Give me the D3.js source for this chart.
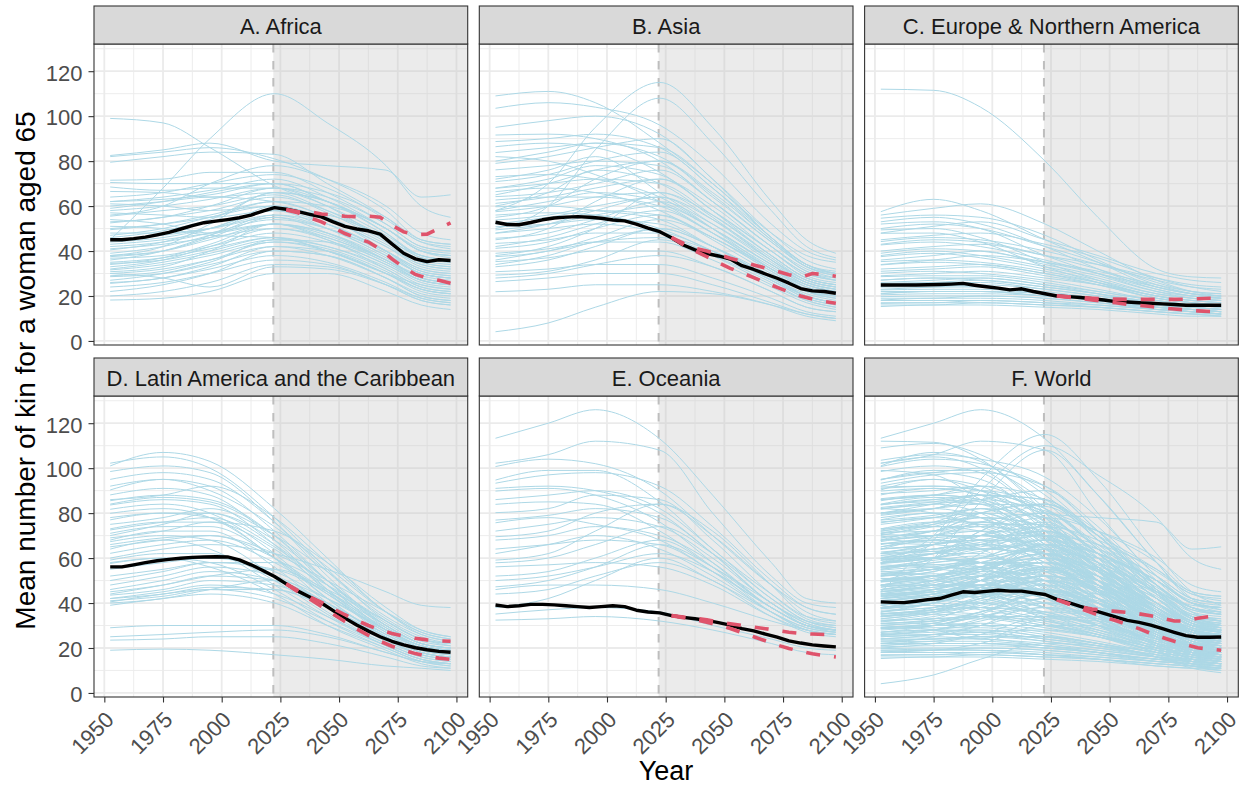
<!DOCTYPE html>
<html><head><meta charset="utf-8">
<script src="https://cdn.jsdelivr.net/npm/d3@7"></script>
<style>body{margin:0;background:#fff} text{font-family:"Liberation Sans",Arial,Helvetica,sans-serif}</style>
</head><body><svg id="chart" width="1245" height="788"></svg>
<script>
// ---------- data ----------
const panelTitles = ["A. Africa","B. Asia","C. Europe & Northern America","D. Latin America and the Caribbean","E. Oceania","F. World"];
const years = [1952.5,1957.5,1962.5,1967.5,1972.5,1977.5,1982.5,1987.5,1992.5,1997.5,2002.5,2007.5,2012.5,2017.5,2022.5,2027.5,2032.5,2037.5,2042.5,2047.5,2052.5,2057.5,2062.5,2067.5,2072.5,2077.5,2082.5,2087.5,2092.5,2097.5];
const projYears = [2027.5,2032.5,2037.5,2042.5,2047.5,2052.5,2057.5,2062.5,2067.5,2072.5,2077.5,2082.5,2087.5,2092.5,2097.5];
const keyYears = [1952.5,1975,1995,2022.5,2045,2070,2085,2097.5];
const yTicks = [0,20,40,60,80,100,120];
const yMinor = [10,30,50,70,90,110,130];
const xTicks = [1950,1975,2000,2025,2050,2075,2100];
const xMinor = [1962.5,1987.5,2012.5,2037.5,2062.5,2087.5];
const projectionStart = 2022;

const meanAfrica = [45,45,45.5,46.2,47.2,48.3,49.8,51.3,52.6,53.3,54,54.8,56,57.8,59.3,58.6,57.5,56.3,55.2,53,51,49.8,49,47.5,43.2,39,36.5,35.3,36.1,35.8];
const highAfrica = [58.5,57.5,57.5,56.5,56,55.5,55.3,55.5,55,51.5,48.5,47.3,47.5,50,52.5];
const lowAfrica  = [58.3,57,54.8,53,50.5,47.8,45.8,44,40.8,36.5,32.8,29.6,28,27,25.7];

const meanAsia = [52.8,51.8,51.7,52.7,53.9,54.7,55.1,55.3,55,54.6,53.8,53.4,52,50.2,48.6,45.9,42.7,40.5,38.9,37.8,36.4,33.5,31.8,29.8,27.9,25.7,23.3,22.3,22,21.2];
const highAsia = [46,43.5,41.3,40,38.5,36.8,35.3,33.8,32.4,31,29.5,28.3,30,29.5,28.8];
const lowAsia  = [46,42.8,40,37.5,34.8,32.3,30.3,28.2,26,23.8,21.8,20,18.6,17.6,16.8];

const meanEurope = [24.9,24.9,24.9,24.9,25,25.1,25.3,25.6,24.8,24.1,23.5,22.7,23.2,22,21,20,19.7,19.3,18.8,18.2,17.5,17.3,17,16.8,16.5,16.2,15.9,15.9,15.9,15.9];
const highEurope = [20,19.6,19.3,19,18.8,18.6,18.5,18.5,18.5,18.5,18.5,18.6,18.8,19,19];
const lowEurope  = [20,19.5,18.9,18.2,17.6,17,16.3,15.8,15.3,14.7,14.2,13.8,13.4,13.1,12.9];

const meanLatam = [56.1,56.1,57,58,58.8,59.4,59.9,60.3,60.5,60.6,60.5,59.2,57,54.5,51.8,48.5,45.3,42.7,40,36.6,33.3,30.2,27.5,25,23,21.4,20.1,19.2,18.5,18.1];
const highLatam = [48.5,45.5,42.8,40.3,37.5,34.8,32.3,30,28,26.5,25.3,24.3,23.6,23.2,23];
const lowLatam  = [48.5,45,41.8,38.5,35,31.8,28.5,25.6,23,20.8,19,17.5,16.3,15.5,14.9];

const meanOceania = [39.1,38.4,38.8,39.4,39.4,39.2,38.8,38.4,38,38.4,38.8,38.4,36.8,36,35.6,34.4,33.6,33,32.3,31.3,30.2,28.6,27.6,26.2,24.8,23.2,22.2,21.4,20.9,20.5];
const highOceania = [34.4,33.8,33.2,32.5,31.6,30.8,30,29.3,28.6,27.8,27,26.5,26.2,26,26];
const lowOceania  = [34.4,33.5,32.6,31.5,30.2,28.7,26.8,25,23.2,21.3,19.8,18.5,17.4,16.6,16];

const meanWorld = [40.5,40.3,40.2,40.8,41.5,42,43.5,45,44.7,45.2,45.7,45.3,45.3,44.5,43.8,41.6,40.2,38.5,37,35.4,33.8,32.3,31.4,30.2,28.6,27,25.5,24.8,24.8,24.9];
const highWorld = [41.5,39.8,38.3,37.3,36.8,36.3,35.8,35.2,34.3,33.2,32,32,33.2,34,34.6];
const lowWorld  = [41.5,39.6,37.5,35.6,33.8,32.2,30.4,28.6,26.5,24.7,23,21.5,20.1,19.5,19];

// country lines, values at keyYears
const africaLines = [
[99,97,86,69,60,45,38,36],[45,68,90,110,97,78,60,55],[82.5,85,88,80,78,76,64,65],[82,84,86,81,72,58,45,43],
[79.5,82,84,83,70,55,44,42],[71.5,72,75,75,66,52,42,40],[70.5,70,70,70,62,50,40,38],[68.5,67,68,68,60,47,38,36],
[66.5,66,64,66,58,45,36,34],[62,64,67,72,64,50,40,38],[61,60,58,60,54,42,34,32],[59,62,66,70,62,48,38,36],
[57,56,55,58,50,38,30,28],[55.5,58,60,65,57,44,35,33],[54,52,48,52,45,34,27,25],[52.5,55,58,64,58,46,37,35],
[51,50,47,46,40,30,25,23],[49.5,52,56,62,55,43,34,32],[48,48,50,55,50,40,32,30],[47,50,55,60,52,40,32,30],
[45,47,50,56,50,38,30,28],[43,45,48,52,46,36,28,26],[40.5,44,50,58,52,40,31,29],[38,40,45,52,47,36,29,27],
[37.5,40,46,55,48,36,28,26],[36.8,38,42,48,44,34,26,24],[36,40,47,60,54,42,33,31],[34.5,36,40,46,42,33,25,23],
[33,36,42,50,46,35,27,25],[31.6,34,38,44,40,30,23,21],[30.8,33,40,52,48,37,28,26],[30,32,36,42,38,28,21,19],
[30,28,24,33,32,25,19,17],[28.6,30,34,40,38,28,20,18],[27,30,35,45,42,32,24,22],[25.6,28,32,38,35,26,19,17],
[24,26,30,36,34,25,18,16],[22,25,30,40,38,28,20,18],[18.2,19,22,30,30,22,16,14],[58,60,63,68,62,50,40,38],
[62,63,65,70,66,55,45,43],[50,52,55,62,60,50,40,37],[44,46,50,58,56,45,35,33],[41,43,46,50,45,32,24,22],
[35,37,41,46,40,30,23,21],[32,35,39,45,44,35,27,25],[46,49,54,66,62,50,41,39],[56,60,70,78,72,60,48,45],
[60,62,64,62,55,40,30,28],[38,42,52,66,62,48,37,35],
[64,66,70,74,68,54,44,41],[53,55,60,68,64,52,42,40],[42,44,48,54,50,39,30,28],[39,42,47,56,52,40,31,29],
[34,37,43,52,48,36,27,25],[29,31,36,44,41,31,23,21],[26,28,33,42,40,30,22,20],[20,22,26,34,33,25,18,16]
];
const asiaLines = [
[109,111,106,88,70,48,38,35],[103.5,106,104,96,78,52,40,36],[58,70,95,115,95,62,45,39],[50,60,85,108,88,58,42,37],
[91.6,92,90,80,62,42,32,28],[88.7,90,92,86,68,45,34,30],[86.4,88,86,75,58,38,28,25],[83.8,86,88,82,65,44,33,29],
[82,80,74,62,48,32,25,22],[79,82,86,90,72,48,36,32],[76.1,78,80,78,62,42,31,27],[73.1,74,72,64,50,34,26,23],
[70.9,74,80,84,68,46,34,30],[67.9,70,72,70,56,38,28,25],[66.4,68,66,58,45,30,22,20],[64.2,66,70,76,62,42,31,28],
[62.7,64,64,60,48,32,24,21],[61.2,64,68,72,58,40,29,26],[59.7,60,58,54,42,28,21,18],[57.5,60,64,66,54,36,27,24],
[56,57,56,50,40,27,20,17],[53.8,56,60,64,52,35,26,23],[50.8,52,54,52,42,28,20,17],[49.4,52,56,60,50,34,25,22],
[47.9,50,52,48,38,25,18,15],[45.7,48,54,62,52,36,27,24],[43.4,45,48,48,40,27,19,16],[41.2,44,50,56,46,32,23,20],
[39,41,44,44,36,24,17,14],[37.5,40,46,54,46,31,22,19],[35.3,37,40,40,33,22,15,13],[33,36,42,50,42,29,20,17],
[30.8,32,34,34,28,19,13,11],[29.3,31,36,45,38,26,18,15],[26.4,28,30,30,25,17,12,10],[21.9,23,25,25,22,16,11,9],
[4.1,8,15,22,21,16,12,10],[68,72,78,74,58,40,30,27],[55,60,72,80,64,44,33,30],[45,50,62,72,60,40,30,27],
[38,42,50,66,56,38,28,25],[60,66,76,70,55,36,26,23],[52,55,58,56,46,31,22,19],[34,38,44,46,40,27,19,16],
[72,76,82,66,50,32,23,20],
[95,98,100,92,72,46,34,30],[80,84,88,86,70,46,34,31],[65,70,76,80,66,45,33,29],[58,62,66,62,50,34,25,22],
[48,52,58,64,54,37,27,24],[42,46,52,58,48,33,24,21],[36,40,44,50,42,28,20,17],[28,30,34,38,33,22,15,13]
];
const europeLines = [
[112,111.5,104,80,55,32,28.5,28],[57.5,63,58,45,35,24,21,20],[56,59,61,52,40,27,22,20],[54.6,56,55,47,36,25,21,19],
[53,55,52,42,32,23,20,19],[52,53,50,38,30,22,19,18],[49.4,50,46,35,27,20,18,17],[47.9,48,44,33,26,19,17,16],
[44.2,46,45,40,34,27,24,23],[42.7,44,42,36,30,23,20,19],[39,41,40,35,30,24,21,20],[37.5,39,37,32,27,21,19,18],
[35.3,36,35,31,26,20,18,17],[33.8,35,34,30,25,19,17,16],[30.1,31,30,27,23,18,16,15],[28.6,29,29,26,22,18,16,15],
[27.1,28,27,24,21,17,15,14],[25.6,26,26,23,20,17,15,14],[24.1,25,24,22,19,16,15,14],[22.7,23,23,21,19,16,14,13],
[21.2,22,22,20,18,15,14,13],[19.7,20,20,19,17,15,14,13],[18.2,19,19,18,16,14,13,12],[16.7,17,17,16,15,13,12,12],
[15.3,16,16,15,14,12,11,11],[40,42,43,38,34,28,25,24],[36,38,40,34,29,22,20,19],[32,33,34,30,26,20,18,17],
[26,27,28,25,22,18,16,15],[23,24,25,23,20,16,15,14],[20.5,21,21,20,18,15,14,13],[18,18,18,17,16,14,13,12],
[48,51,53,45,38,30,27,26],[45,47,48,43,37,28,24,22],[38,40,38,33,28,21,19,18],[29,30,31,28,25,20,17,16],
[22,22,22,21,18,15,14,13],[17,17,18,17,15,13,12,11],[27,28,28,25,21,16,14,13],[24,24,24,21,18,14,13,12],
[31,32,33,29,25,19,17,16],[34,36,38,35,31,25,22,21],[25,26,27,24,21,17,15,14],[21,22,22,20,18,15,13,12],
[19,19,20,19,17,14,13,12],[43,45,44,38,32,24,21,20],[50,52,50,42,35,26,22,21],[16,16,17,16,15,13,12,11]
];
const latamLines = [
[102.2,105,100,78,55,32,24,22],[101,107,103,82,60,36,27,24],[98.5,101,98,76,52,30,22,20],[90.3,95,92,72,50,29,21,19],
[88.1,91,88,68,46,27,20,18],[85.5,88,86,70,48,28,20,18],[83.6,86,84,66,45,26,19,17],[81.7,84,80,62,42,25,18,16],
[79.9,82,78,60,40,24,17,15],[72.5,76,78,65,48,30,22,20],[71,74,74,60,42,25,18,16],[68,72,72,56,38,23,17,15],
[67.3,70,68,52,36,22,16,14],[62.1,66,68,58,44,28,21,19],[59.1,62,62,50,35,21,15,13],[57.6,60,58,46,32,20,14,12],
[48,52,56,52,40,26,19,17],[43.5,46,50,48,38,25,18,16],[42,45,48,44,34,22,16,14],[40.5,44,46,42,32,21,15,13],
[39,42,44,40,30,20,14,12],[25,26,27,28,25,18,14,13],[23.5,24,25,25,22,16,12,11],[19,19.5,19,17,15,12,11,10],
[70,75,80,66,48,28,21,19],[75,78,82,70,54,34,26,23],[65,68,70,62,50,36,28,25],[60,64,66,62,55,45,39,38],
[55,58,60,54,42,28,21,19],[52,55,58,55,45,30,22,20],[46,50,54,50,40,26,19,17],[44,48,52,55,46,32,24,22],
[42,44,47,46,38,24,17,15],[40,42,46,50,42,28,20,18],[69,72,76,72,58,38,28,25],[78,80,78,60,44,27,20,18],
[92,95,90,74,56,36,27,24],[86,88,92,78,58,36,26,23],[64,68,64,48,34,21,15,13],[58,60,56,44,30,19,13,11],
[29,30,30,30,26,18,14,13],
[95,98,95,76,54,33,25,22],[84,87,85,70,50,30,22,20],[77,80,80,68,50,31,23,21],[73,76,76,64,46,28,21,19],
[66,69,70,60,45,29,22,20],[50,54,58,58,48,32,24,21],[45,48,52,50,40,25,18,16],[41,43,46,46,38,25,18,16]
];
const oceaniaLines = [
[113.3,120,126,113,88,58,42,40],[102.2,106,112,108,80,52,40,38],[100.7,104,102,90,70,48,38,35],[94.7,99,99,85,64,44,34,32],
[93.3,97,98,92,74,50,38,35],[91,92,90,80,62,40,32,30],[89.8,91,88,76,58,38,30,28],[83.9,85,84,72,56,36,28,26],
[80.2,82,88,86,68,44,33,30],[76.9,79,82,78,62,40,31,28],[75.7,78,75,68,54,36,29,27],[69.5,72,80,84,70,48,36,32],
[68,70,74,70,58,38,30,28],[59.1,62,72,84,72,48,34,31],[57.9,60,66,74,62,42,32,29],[56.1,57,58,56,48,34,28,26],
[47.2,50,56,66,56,38,30,28],[46,48,48,46,40,32,28,26],[38,42,50,60,50,36,29,27],[35.1,37,38,36,30,24,20,19],
[32.4,33,34,32,28,22,18,17],[62,66,70,64,52,36,28,26],[52,54,60,68,56,40,30,28],[44,46,52,58,50,34,27,25],
[86,88,90,82,64,42,32,29],[72,75,78,74,60,40,31,28],[64,66,68,66,54,38,30,28],[50,52,56,62,54,38,30,27]
];
const worldLines = [].concat(africaLines, asiaLines, europeLines, latamLines, oceaniaLines);

const panelData = [
  {lines: africaLines, mean: meanAfrica, high: highAfrica, low: lowAfrica},
  {lines: asiaLines, mean: meanAsia, high: highAsia, low: lowAsia},
  {lines: europeLines, mean: meanEurope, high: highEurope, low: lowEurope},
  {lines: latamLines, mean: meanLatam, high: highLatam, low: lowLatam},
  {lines: oceaniaLines, mean: meanOceania, high: highOceania, low: lowOceania},
  {lines: worldLines, mean: meanWorld, high: highWorld, low: lowWorld}
];

// ---------- layout ----------
const W = 373.7, H = 301, stripH = 38;
const colX = [94, 479.3, 864.6];
const rowY = [44, 396];

const xS = d3.scaleLinear().domain([1945.6, 2104.8]).range([0, W]);
const yS = d3.scaleLinear().domain([-1.8, 132.1]).range([H, 0]);

const lineKey = d3.line().x((d,j)=>xS(keyYears[j])).y(d=>yS(d)).curve(d3.curveMonotoneX);
const lineMean = d3.line().x((d,j)=>xS(years[j])).y(d=>yS(d));
const lineProj = d3.line().x((d,j)=>xS(projYears[j])).y(d=>yS(d));

const svg = d3.select("#chart");
svg.append("rect").attr("width",1245).attr("height",788).attr("fill","#fff");

panelTitles.forEach((title, i) => {
  const col = i % 3, row = Math.floor(i / 3);
  const pd = panelData[i];
  const g = svg.append("g").attr("transform", `translate(${colX[col]},${rowY[row]})`);
  const clipId = "clip" + i;
  g.append("clipPath").attr("id", clipId).append("rect").attr("width", W).attr("height", H);

  g.append("rect").attr("width", W).attr("height", H).attr("fill", "#fff");
  const grid = g.append("g").attr("stroke", "#EBEBEB");
  yMinor.forEach(v => grid.append("line").attr("x1",0).attr("x2",W).attr("y1",yS(v)).attr("y2",yS(v)).attr("stroke-width",0.9));
  xMinor.forEach(v => grid.append("line").attr("y1",0).attr("y2",H).attr("x1",xS(v)).attr("x2",xS(v)).attr("stroke-width",0.9));
  yTicks.forEach(v => grid.append("line").attr("x1",0).attr("x2",W).attr("y1",yS(v)).attr("y2",yS(v)).attr("stroke-width",1.8));
  xTicks.forEach(v => grid.append("line").attr("y1",0).attr("y2",H).attr("x1",xS(v)).attr("x2",xS(v)).attr("stroke-width",1.8));

  // projection shading
  g.append("rect").attr("x", xS(projectionStart)).attr("y", 0)
    .attr("width", W - xS(projectionStart)).attr("height", H)
    .attr("fill", "#BEBEBE").attr("fill-opacity", 0.3);
  g.append("line").attr("x1", xS(projectionStart)).attr("x2", xS(projectionStart))
    .attr("y1", 0).attr("y2", H).attr("stroke", "#BEBEBE").attr("stroke-width", 2)
    .attr("stroke-dasharray", "8.5,8.5");

  const plot = g.append("g").attr("clip-path", `url(#${clipId})`);
  plot.append("g").selectAll("path").data(pd.lines).join("path")
    .attr("d", d => lineKey(d)).attr("fill", "none")
    .attr("stroke", "#ADD8E6").attr("stroke-width", 1);
  plot.append("path").attr("d", lineMean(pd.mean)).attr("fill","none")
    .attr("stroke","#000").attr("stroke-width",3.4).attr("stroke-linejoin","round");
  [pd.high, pd.low].forEach(s => plot.append("path").attr("d", lineProj(s)).attr("fill","none")
    .attr("stroke","#DF536B").attr("stroke-width",3.6).attr("stroke-dasharray","14,14"));

  g.append("rect").attr("width", W).attr("height", H).attr("fill","none")
    .attr("stroke","#333333").attr("stroke-width",1.1);

  // strip
  g.append("rect").attr("x",0).attr("y",-stripH).attr("width",W).attr("height",stripH)
    .attr("fill","#D9D9D9").attr("stroke","#333333").attr("stroke-width",1.1);
  g.append("text").attr("x", W/2).attr("y", -stripH + 27.5).attr("text-anchor","middle")
    .attr("font-size", 22).attr("fill","#1A1A1A").text(title);

  // axes
  if (col === 0) {
    const ay = g.append("g").call(d3.axisLeft(yS).tickValues(yTicks).tickSize(5.5).tickPadding(6));
    ay.select(".domain").remove();
    ay.selectAll(".tick line").attr("stroke","#333333").attr("stroke-width",1.1);
    ay.selectAll(".tick text").attr("font-size",22).attr("fill","#4D4D4D").attr("dy","0.4em")
      .style("font-family",'"Liberation Sans",Arial,sans-serif');
  }
  if (row === 1) {
    const ax = g.append("g").attr("transform", `translate(0,${H})`)
      .call(d3.axisBottom(xS).tickValues(xTicks).tickSize(5.5).tickFormat(d3.format("d")));
    ax.select(".domain").remove();
    ax.selectAll(".tick line").attr("stroke","#333333").attr("stroke-width",1.1);
    ax.selectAll(".tick text").attr("font-size",22).attr("fill","#4D4D4D")
      .attr("x",0).attr("y",0).attr("dy",0).attr("text-anchor","end")
      .attr("transform","translate(10.3,24) rotate(-45)")
      .style("font-family",'"Liberation Sans",Arial,sans-serif');
  }
});

svg.append("text").attr("transform","translate(35,370.5) rotate(-90)").attr("text-anchor","middle")
  .attr("font-size",28).attr("fill","#000").text("Mean number of kin for a woman aged 65");
svg.append("text").attr("x",666).attr("y",780).attr("text-anchor","middle")
  .attr("font-size",27).attr("fill","#000").text("Year");
</script></body></html>
